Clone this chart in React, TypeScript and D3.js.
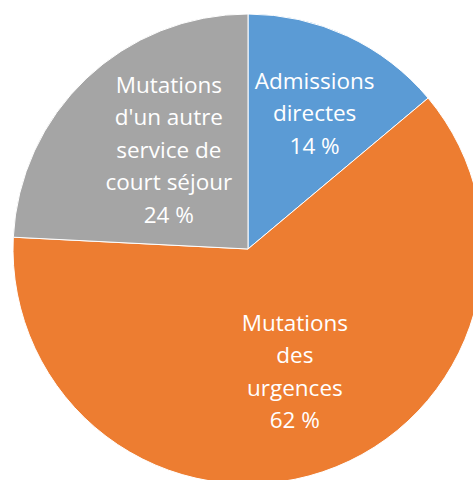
import React from "react";
import * as d3 from "d3";

const categories = ["Admissions directes", "Mutations des urgences", "Mutations d'un autre service de court séjour"];
const values = [13.9, 61.9, 24.2];
const labelLines = [
  ["Admissions", "directes"],
  ["Mutations", "des", "urgences"],
  ["Mutations", "d'un autre", "service de", "court séjour"],
];
const colors = ["#5B9BD5", "#ED7D31", "#A5A5A5"];

const W = 473;
const H = 480;
const cx = 248;
const cy = 249;
const R = 235;
const labelR = 141;
const nudges: [number, number][] = [
  [7, -8],
  [2, -11],
  [18, 3],
];
const lineH = 32.5;
const fontSize = 22.5;

export default function App() {
  const pie = d3.pie<number>().sort(null).value((d) => d);
  const arcs = pie(values);
  const arc = d3.arc<d3.PieArcDatum<number>>().innerRadius(0).outerRadius(R);
  const labelArc = d3.arc<d3.PieArcDatum<number>>().innerRadius(labelR).outerRadius(labelR);
  const total = d3.sum(values);

  return (
    <svg width={W} height={H} style={{ position: "absolute", left: 0, top: 0 }}>
      <g transform={`translate(${cx},${cy})`}>
        {arcs.map((a, i) => (
          <path key={categories[i]} d={arc(a) || ""} fill={colors[i]} stroke="#fff" strokeWidth={1} />
        ))}
        {arcs.map((a, i) => {
          const [x, y] = labelArc.centroid(a);
          const lines = [...labelLines[i], `${Math.round((values[i] / total) * 100)} %`];
          const n = lines.length;
          const x0 = x + nudges[i][0];
          const y0 = y + nudges[i][1];
          return (
            <text
              key={"l" + i}
              textAnchor="middle"
              fill="#fff"
              fontFamily="'Open Sans', sans-serif"
              fontSize={fontSize}
            >
              {lines.map((t, j) => (
                <tspan key={j} x={x0} y={y0 + (j - (n - 1) / 2) * lineH} dy="0.35em">
                  {t}
                </tspan>
              ))}
            </text>
          );
        })}
      </g>
    </svg>
  );
}
